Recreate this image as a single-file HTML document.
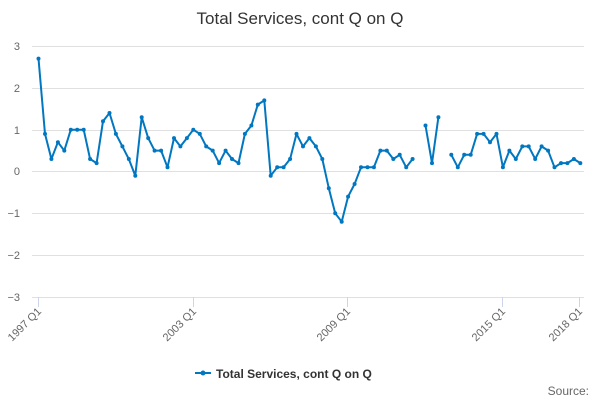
<!DOCTYPE html>
<html><head><meta charset="utf-8"><style>body{margin:0;background:#fff}svg{display:block;font-family:"Liberation Sans","DejaVu Sans",sans-serif}</style></head><body>
<svg width="600" height="400" xmlns="http://www.w3.org/2000/svg">
<defs><marker id="m" markerUnits="userSpaceOnUse" markerWidth="6" markerHeight="6" refX="3" refY="3"><circle cx="3" cy="3" r="2" fill="#0077c0"/></marker></defs>
<text x="300" y="24" text-anchor="middle" font-size="17" fill="#333">Total Services, cont Q on Q</text>
<g stroke="#e0e0e0" stroke-width="1">
<line x1="32" x2="584" y1="46.5" y2="46.5"/><line x1="32" x2="584" y1="88.5" y2="88.5"/><line x1="32" x2="584" y1="130.5" y2="130.5"/><line x1="32" x2="584" y1="171.5" y2="171.5"/><line x1="32" x2="584" y1="213.5" y2="213.5"/><line x1="32" x2="584" y1="255.5" y2="255.5"/><line x1="32" x2="584" y1="297.5" y2="297.5"/>
</g>
<g stroke="#ccd6eb"><line x1="38.5" x2="38.5" y1="297" y2="307"/><line x1="193.5" x2="193.5" y1="297" y2="307"/><line x1="347.5" x2="347.5" y1="297" y2="307"/><line x1="502.5" x2="502.5" y1="297" y2="307"/><line x1="579.5" x2="579.5" y1="297" y2="307"/></g>
<g font-size="11" fill="#666" text-anchor="end">
<text x="20" y="50">3</text><text x="20" y="92">2</text><text x="20" y="134">1</text><text x="20" y="175">0</text><text x="20" y="217">−1</text><text x="20" y="259">−2</text><text x="20" y="301">−3</text>
</g>
<g font-size="11" fill="#666" text-anchor="end">
<text transform="translate(42,312) rotate(-45)">1997 Q1</text>
<text transform="translate(197,312) rotate(-45)">2003 Q1</text>
<text transform="translate(351,312) rotate(-45)">2009 Q1</text>
<text transform="translate(506,312) rotate(-45)">2015 Q1</text>
<text transform="translate(583,312) rotate(-45)">2018 Q1</text>
</g>
<g fill="none" stroke="#0077c0" stroke-width="2" stroke-linejoin="round" marker-start="url(#m)" marker-mid="url(#m)" marker-end="url(#m)">
<polyline points="38.5,58.6 45.0,133.9 51.4,159.0 57.9,142.2 64.3,150.6 70.8,129.7 77.2,129.7 83.7,129.7 90.1,159.0 96.6,163.1 103.0,121.3 109.5,113.0 115.9,133.9 122.4,146.4 128.8,159.0 135.3,175.7 141.7,117.2 148.2,138.1 154.6,150.6 161.1,150.6 167.5,167.3 174.0,138.1 180.4,146.4 186.9,138.1 193.3,129.7 199.8,133.9 206.2,146.4 212.7,150.6 219.1,163.1 225.6,150.6 232.0,159.0 238.5,163.1 244.9,133.9 251.4,125.5 257.8,104.6 264.3,100.4 270.7,175.7 277.2,167.3 283.6,167.3 290.1,159.0 296.5,133.9 303.0,146.4 309.4,138.1 315.9,146.4 322.3,159.0 328.8,188.2 335.2,213.3 341.7,221.7 348.1,196.6 354.6,184.0 361.0,167.3 367.5,167.3 373.9,167.3 380.4,150.6 386.8,150.6 393.3,159.0 399.7,154.8 406.2,167.3 412.6,159.0"/>
<polyline points="425.5,125.5 432.0,163.1 438.4,117.2"/>
<polyline points="451.3,154.8 457.8,167.3 464.2,154.8 470.7,154.8 477.1,133.9 483.6,133.9 490.0,142.2 496.5,133.9 502.9,167.3 509.4,150.6 515.8,159.0 522.3,146.4 528.7,146.4 535.2,159.0 541.6,146.4 548.1,150.6 554.5,167.3 561.0,163.1 567.4,163.1 573.9,159.0 580.3,163.1"/>
</g>
<g transform="translate(195,373)">
<line x1="0" x2="16" y1="0" y2="0" stroke="#0077c0" stroke-width="2"/><circle cx="8" cy="0" r="2.5" fill="#0077c0"/>
<text x="21" y="5" font-size="12" font-weight="bold" fill="#333">Total Services, cont Q on Q</text>
</g>
<text x="589" y="395" text-anchor="end" font-size="12" fill="#666">Source:</text>
</svg>
</body></html>
